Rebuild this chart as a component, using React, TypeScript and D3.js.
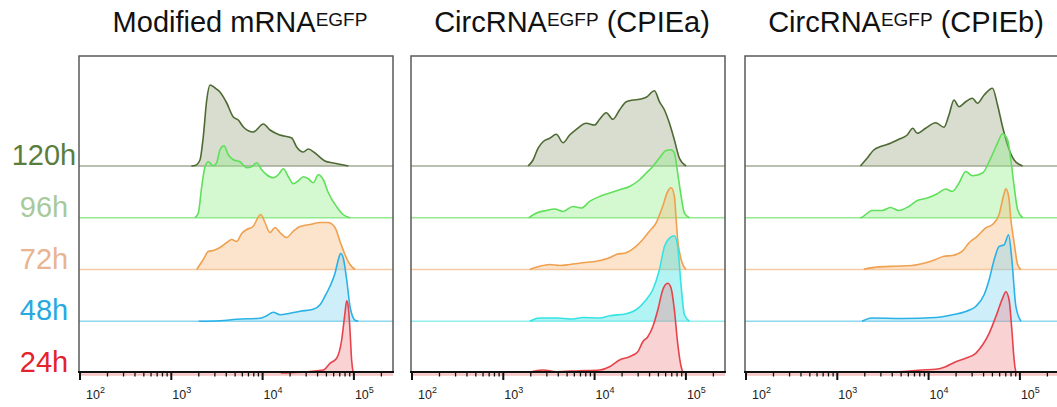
import React, { useEffect, useRef } from 'react';
import * as d3 from 'd3';

// rows, top to bottom
const timepoints = ['120h', '96h', '72h', '48h', '24h'];
const labelColors = ['#5a7d3c', '#a8c99a', '#e9b48f', '#27a9df', '#e3222b'];
const lineColors = ['#4e6a33', '#5fe05a', '#f0a04e', '#2ab2e6', '#e6434b'];
const fillColors = ['#98a684', '#8ef085', '#f7b77a', '#7fd3f2', '#f08a8f'];
const baseColors = ['#a3ab95', '#94ea8f', '#f5cba4', '#8fd6ef', '#f6c2c2'];
const cyan48 = '#35e3e3';

const panelTitles = [
  ['Modified mRNA', ''],
  ['CircRNA', ' (CPIEa)'],
  ['CircRNA', ' (CPIEb)'],
];
const decades = [2, 3, 4, 5];

// [log10 fluorescence, count]
const mrna120 = [[3.22,0],[3.26,0.5],[3.314,6],[3.35,29],[3.388,66],[3.424,81],[3.479,78],[3.533,74],[3.607,63],[3.679,49],[3.734,46],[3.789,39],[3.898,34],[4.008,42],[4.081,36],[4.19,31],[4.319,28],[4.373,19],[4.446,14],[4.5,17],[4.574,13],[4.683,5],[4.774,3],[4.939,0]];
const mrna96 = [[3.26,0],[3.296,4.7],[3.333,31],[3.369,51],[3.406,56],[3.46,52],[3.497,55],[3.533,68],[3.577,72],[3.624,63],[3.679,58],[3.752,56],[3.826,50],[3.88,51],[3.935,55],[3.99,48],[4.045,43],[4.117,40],[4.172,43],[4.227,49],[4.282,41],[4.336,34],[4.391,37],[4.446,41],[4.5,39],[4.555,35],[4.61,43],[4.665,38],[4.72,25],[4.811,11],[4.884,3],[4.957,0]];
const mrna72 = [[3.278,0],[3.35,10],[3.405,18],[3.46,19],[3.533,22],[3.607,27],[3.662,30],[3.716,28],[3.771,36],[3.826,40],[3.895,43],[3.979,55],[4.026,47],[4.081,37],[4.136,42],[4.19,37],[4.264,32],[4.333,38],[4.41,43],[4.519,45],[4.629,47],[4.716,47],[4.793,42],[4.848,28],[4.902,15],[4.957,5],[5.012,0]];
const mrna48 = [[3.3,0],[3.533,0.5],[3.716,2],[3.971,3],[4.045,5.5],[4.117,9],[4.19,6.5],[4.3,8],[4.41,10],[4.555,12],[4.629,16.5],[4.683,25],[4.738,35],[4.793,48],[4.829,61.5],[4.855,68],[4.884,63],[4.921,41.5],[4.957,15],[5.012,1],[5.048,0]];
const mrna24 = [[4.2,0],[4.3,0.3],[4.665,3],[4.738,9.7],[4.811,14.7],[4.866,33],[4.902,59.7],[4.921,72.3],[4.939,66],[4.957,43],[4.975,13],[4.993,0]];

const cpa120 = [[3.271,0],[3.326,6],[3.38,17.7],[3.435,24.3],[3.508,27.7],[3.581,31.7],[3.654,23.3],[3.727,31],[3.8,36.7],[3.909,42.7],[4.0,41],[4.055,46.7],[4.128,53.3],[4.2,46.7],[4.273,56],[4.346,64.3],[4.419,66],[4.492,66.7],[4.565,68.7],[4.656,75.3],[4.71,64.3],[4.765,56],[4.82,42.7],[4.874,26],[4.929,7.7],[5.002,0]];
const cpa96 = [[3.28,0],[3.363,4.7],[3.472,7.3],[3.563,8.7],[3.654,6.3],[3.763,11.3],[3.855,9.7],[3.945,16.3],[4.055,21.3],[4.164,24.7],[4.273,28],[4.383,31.3],[4.492,38],[4.565,44.7],[4.637,51.3],[4.71,59.7],[4.784,67.3],[4.838,68],[4.874,64.7],[4.91,44.7],[4.948,21.3],[4.984,4.7],[5.038,0]];
const cpa72 = [[3.29,0],[3.308,0.7],[3.399,3.3],[3.508,5],[3.617,4],[3.727,5],[3.872,6.7],[4.019,8.3],[4.164,11.7],[4.237,15],[4.346,16.7],[4.456,23.3],[4.528,30],[4.601,38.3],[4.674,46.7],[4.746,63.3],[4.801,78],[4.838,81.7],[4.874,73],[4.893,50],[4.91,30],[4.948,10],[5.002,0]];
const cpa48 = [[3.29,0],[3.308,0.8],[3.399,3.2],[3.581,3.2],[3.763,2.2],[3.872,3.8],[4.055,3.2],[4.164,5.5],[4.346,7.5],[4.456,11.5],[4.565,21.5],[4.637,31.5],[4.71,51.5],[4.765,74.8],[4.82,83.2],[4.874,85.5],[4.91,74.8],[4.948,34.8],[4.984,6.5],[5.038,0]];
const cpa24 = [[3.29,0],[3.308,1.3],[3.435,3],[3.581,1.3],[3.836,2.3],[4.055,3],[4.164,6.3],[4.273,13],[4.383,16.3],[4.473,21.3],[4.528,31.3],[4.583,36.3],[4.637,46.3],[4.692,63],[4.746,83],[4.801,89.7],[4.838,84.7],[4.874,63],[4.91,29.7],[4.948,6.3],[4.965,1.3],[4.98,0]];

const cpb120 = [[3.253,0],[3.326,7.7],[3.399,16],[3.491,20],[3.582,22.7],[3.674,26.7],[3.766,31],[3.827,37.7],[3.876,32.7],[3.967,37.7],[4.077,43.3],[4.168,38.7],[4.223,51],[4.278,66],[4.333,59.3],[4.407,64.3],[4.48,67.7],[4.535,62.7],[4.608,71],[4.7,77.7],[4.755,61],[4.81,39.3],[4.865,21],[4.937,6],[5.03,0]];
const cpb96 = [[3.25,0],[3.264,0.3],[3.381,7.3],[3.491,7.3],[3.582,10.3],[3.674,7.3],[3.784,11.3],[3.876,17.3],[3.986,19.7],[4.096,24],[4.187,28.7],[4.26,26.3],[4.333,34.7],[4.407,46.3],[4.48,42],[4.59,44.7],[4.681,59.7],[4.755,74.7],[4.81,84],[4.865,78],[4.901,58],[4.937,31.3],[4.975,8],[5.03,0]];
const cpb72 = [[3.29,0],[3.308,0.7],[3.418,2.3],[3.637,3.3],[3.821,4],[3.967,6.7],[4.077,10],[4.168,13.3],[4.26,14],[4.37,18.3],[4.443,26.7],[4.535,33.3],[4.626,41.7],[4.7,45],[4.772,55],[4.824,75],[4.846,80.7],[4.879,72],[4.901,50],[4.937,26.7],[4.975,5],[5.011,0]];
const cpb48 = [[3.27,0],[3.289,0.8],[3.381,3.2],[3.711,2.8],[4.077,3.8],[4.26,6.5],[4.407,9.8],[4.516,14.8],[4.608,26.5],[4.663,41.5],[4.718,61.5],[4.773,74.8],[4.828,76.5],[4.876,86.5],[4.912,61.5],[4.956,14.8],[5.011,0]];
const cpb24 = [[3.29,0],[3.308,1.3],[3.637,1.3],[3.93,3],[4.077,3.7],[4.187,6.3],[4.297,11.3],[4.407,14.7],[4.516,19.7],[4.59,28],[4.663,39.7],[4.736,56.3],[4.81,74.7],[4.846,81.3],[4.882,73],[4.912,43],[4.937,13],[4.956,1.3],[4.97,0]];

const panelSeries = [
  [mrna120, mrna96, mrna72, mrna48, mrna24],
  [cpa120, cpa96, cpa72, cpa48, cpa24],
  [cpb120, cpb96, cpb72, cpb48, cpb24],
];

export default function App() {
  const ref = useRef<SVGSVGElement>(null);

  useEffect(() => {
    const svg = d3.select(ref.current);
    svg.selectAll('*').remove();
    const font = 'Arial, "Liberation Sans", Helvetica, sans-serif';

    const lefts = [79, 411, 745];
    const panelW = 314;
    const top = 56;
    const bottom = 372;
    const decadePx = 91.3;

    // row baselines
    const rowY = d3.scalePoint<string>().domain(timepoints).range([166, 373]);
    const countH = d3.scaleLinear().domain([0, 100]).range([0, 100]);

    // left labels
    svg.append('g')
      .selectAll('text')
      .data(timepoints)
      .enter()
      .append('text')
      .attr('x', 44)
      .attr('y', (d) => (rowY(d) as number) - 1)
      .attr('text-anchor', 'middle')
      .attr('font-family', font)
      .attr('font-size', 29)
      .attr('fill', (d, i) => labelColors[i])
      .text((d) => d);

    panelSeries.forEach((series, p) => {
      const left = lefts[p];
      const right = left + panelW;
      const x = d3.scaleLog()
        .domain([100, 262144])
        .range([left + 1, left + 1 + Math.log10(262144 / 100) * decadePx]);
      const g = svg.append('g');

      // title
      const cx = (left + right) / 2 + 4;
      const title = g.append('text')
        .attr('x', cx)
        .attr('y', 32)
        .attr('text-anchor', 'middle')
        .attr('font-family', font)
        .attr('font-size', 29)
        .attr('fill', '#111');
      title.append('tspan').text(panelTitles[p][0]);
      title.append('tspan').attr('font-size', 19).attr('dy', -6.5).text('EGFP');
      if (panelTitles[p][1]) {
        title.append('tspan').attr('dy', 6.5).text(panelTitles[p][1]);
      }

      series.forEach((data, i) => {
        const base = rowY(timepoints[i]) as number;
        const stroke = p === 1 && i === 3 ? cyan48 : lineColors[i];
        const fill = p === 1 && i === 3 ? cyan48 : fillColors[i];
        const baseStroke = p === 1 && i === 3 ? '#93eeee' : baseColors[i];

        // baseline across the panel
        g.append('line')
          .attr('x1', left).attr('x2', right)
          .attr('y1', i === 4 ? base + 1.5 : base).attr('y2', i === 4 ? base + 1.5 : base)
          .attr('stroke', baseStroke)
          .attr('stroke-width', i === 4 ? 2.5 : 1.4);

        const area = d3.area<number[]>()
          .x((d) => x(10 ** d[0]))
          .y0(base)
          .y1((d) => base - countH(d[1]))
          .curve(d3.curveMonotoneX);
        const line = d3.line<number[]>()
          .x((d) => x(10 ** d[0]))
          .y((d) => base - countH(d[1]))
          .curve(d3.curveMonotoneX);

        g.append('path')
          .attr('d', area(data as number[][]))
          .attr('fill', fill)
          .attr('fill-opacity', 0.38);
        g.append('path')
          .attr('d', line(data as number[][]))
          .attr('fill', 'none')
          .attr('stroke', stroke)
          .attr('stroke-width', 1.6)
          .attr('stroke-linejoin', 'round');
      });

      // frame
      g.append('path')
        .attr('d', `M${left},${bottom}V${top}H${right}V${bottom}`)
        .attr('fill', 'none')
        .attr('stroke', '#5a5a5a')
        .attr('stroke-width', 1.5);
      g.append('line')
        .attr('x1', left - 1).attr('x2', right + 1)
        .attr('y1', bottom).attr('y2', bottom)
        .attr('stroke', '#111')
        .attr('stroke-width', 2);

      // ticks
      const ticks: { v: number; major: boolean }[] = [];
      decades.forEach((d) => {
        for (let m = 1; m <= 9; m++) {
          const v = m * 10 ** d;
          if (v <= 262144) ticks.push({ v, major: m === 1 });
        }
      });
      g.append('g')
        .selectAll('line')
        .data(ticks)
        .enter()
        .append('line')
        .attr('x1', (d) => x(d.v)).attr('x2', (d) => x(d.v))
        .attr('y1', bottom)
        .attr('y2', (d) => bottom + (d.major ? 8 : 4.5))
        .attr('stroke', '#111')
        .attr('stroke-width', (d) => (d.major ? 2 : 1.3));

      const labels = g.append('g')
        .selectAll('text')
        .data(decades)
        .enter()
        .append('text')
        .attr('x', (d) => Math.max(x(10 ** d) + 1, left + 7))
        .attr('y', 399)
        .attr('font-family', font)
        .attr('font-size', 12.5)
        .attr('fill', '#222');
      labels.append('tspan').text('10');
      labels.append('tspan').attr('font-size', 9).attr('dy', -6).text((d) => String(d));
    });
  }, []);

  return (
    <svg
      ref={ref}
      width={1057}
      height={407}
      style={{ position: 'absolute', left: 0, top: 0, background: '#fff' }}
    />
  );
}
